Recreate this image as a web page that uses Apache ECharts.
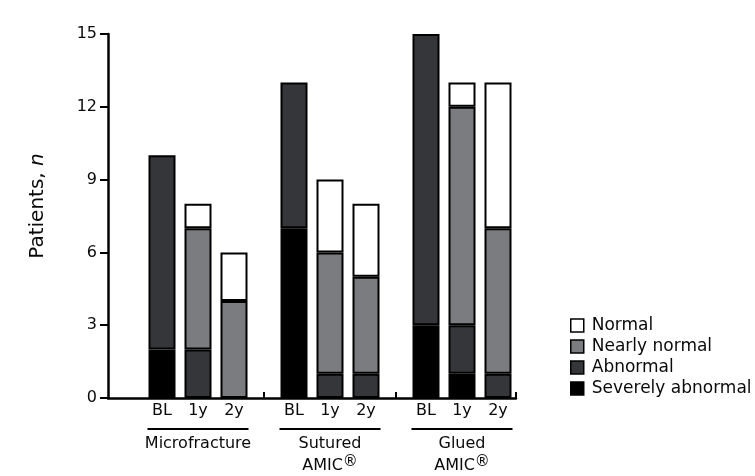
<!DOCTYPE html>
<html><head><meta charset="utf-8">
<script src="https://cdn.jsdelivr.net/npm/echarts@6/dist/echarts.min.js"></script>
<style>html,body{margin:0;padding:0;background:#fff}#c{width:755px;height:476px}</style>
</head><body><div id="c"></div>
<script>
const groups = ['Microfracture', 'Sutured', 'Glued'];
const groupSub = ['', 'AMIC®', 'AMIC®'];
const timepoints = ['BL', '1y', '2y'];
const severelyAbnormal = [2, 0, 0, 7, 0, 0, 3, 1, 0];
const abnormal =         [8, 2, 0, 6, 1, 1, 12, 2, 1];
const nearlyNormal =     [0, 5, 4, 0, 5, 4, 0, 9, 6];
const normal =           [0, 1, 2, 0, 3, 3, 0, 1, 6];
const yTicks = [0, 3, 6, 9, 12, 15];

// layout of the fine category grid (slots): lead-in, bar step, group step, total
const LEAD = 4, BAR_STEP = 3, GROUP_STEP = 11, N_SLOTS = 34;
const FONT = 'DejaVu Sans';
const TXT = '#0a0a0a';
const slotLabel = new Array(N_SLOTS).fill('');
const barSlot = [];
groups.forEach((g, gi) => timepoints.forEach((t, ti) => {
  const k = LEAD + gi * GROUP_STEP + ti * BAR_STEP;
  barSlot.push(k); slotLabel[k] = t;
}));
const gapSlot = [];
for (let gi = 0; gi < groups.length - 1; gi++) {
  gapSlot.push(Math.round((LEAD + gi * GROUP_STEP + 2 * BAR_STEP + LEAD + (gi + 1) * GROUP_STEP + 1) / 2));
}
const categories = slotLabel.map((s, i) => 's' + i);

function mk(name, vals, color) {
  const data = new Array(N_SLOTS).fill('-');
  vals.forEach((v, i) => { data[barSlot[i]] = v === 0 ? '-' : v; });
  return {
    name, type: 'bar', stack: 'all', barWidth: 27,
    itemStyle: { color, borderColor: '#000', borderWidth: 2 },
    data
  };
}

const chart = echarts.init(document.getElementById('c'));
chart.setOption({
  animation: false,
  textStyle: { fontFamily: FONT },
  grid: { left: 108, right: 239, top: 34, bottom: 78 },
  legend: {
    orient: 'vertical', left: 565, top: 312, icon: 'rect',
    itemWidth: 13, itemHeight: 13, itemGap: 4,
    data: ['Normal', 'Nearly normal', 'Abnormal', 'Severely abnormal'],
    textStyle: { fontFamily: FONT, fontSize: 17, lineHeight: 17, color: TXT, padding: [0, 0, 0, 3] },
    itemStyle: { borderColor: '#000', borderWidth: 1.5 }
  },
  xAxis: {
    type: 'category', data: categories, boundaryGap: true,
    axisLine: { show: true, lineStyle: { color: '#000', width: 2.5 } },
    axisTick: { show: true, inside: true, length: 6, interval: (i) => gapSlot.includes(i), lineStyle: { color: '#000', width: 2 } },
    axisLabel: {
      show: true, interval: 0, margin: 5,
      fontFamily: FONT, fontSize: 16, color: TXT,
      formatter: (v, i) => slotLabel[i]
    }
  },
  yAxis: {
    type: 'value', min: 0, max: 15, interval: 3,
    splitLine: { show: false },
    name: 'Patients, {i|n}', nameLocation: 'middle', nameGap: 60, nameRotate: 90,
    nameTextStyle: { fontFamily: FONT, fontSize: 20, color: TXT, padding: [0, 0, 0, 20], rich: { i: { fontFamily: FONT, fontSize: 20, fontStyle: 'italic', color: TXT } } },
    axisLine: { show: true, onZero: false, lineStyle: { color: '#000', width: 2.5 } },
    axisTick: { show: true, length: 8, lineStyle: { color: '#000', width: 2 } },
    axisLabel: { fontFamily: FONT, fontSize: 16, color: TXT, margin: 11 }
  },
  series: [
    mk('Severely abnormal', severelyAbnormal, '#000000'),
    mk('Abnormal', abnormal, '#353639'),
    mk('Nearly normal', nearlyNormal, '#7b7c7f'),
    mk('Normal', normal, '#ffffff')
  ]
});

// group underlines and names, positioned from the axis scale
const half = 27 / 2 + 1;
const gfx = [];
groups.forEach((g, gi) => {
  const x0 = chart.convertToPixel({ xAxisIndex: 0 }, barSlot[gi * 3]) - half;
  const x1 = chart.convertToPixel({ xAxisIndex: 0 }, barSlot[gi * 3 + 2]) + half;
  const yLine = 429;
  gfx.push({ type: 'line', shape: { x1: x0, y1: yLine, x2: x1, y2: yLine }, style: { stroke: '#000', lineWidth: 2 } });
  const cx = (x0 + x1) / 2;
  gfx.push({ type: 'text', x: cx, y: 444, style: { text: g, fontFamily: FONT, fontSize: 16, fill: TXT, align: 'center', verticalAlign: 'middle' } });
  if (groupSub[gi]) {
    gfx.push({ type: 'text', x: cx, y: 466, style: {
      text: 'AMIC{s|®}', fontFamily: FONT, fontSize: 16, fill: TXT, align: 'center', verticalAlign: 'middle',
      rich: { s: { fontSize: 15, verticalAlign: 'top', padding: [0, 0, 7, 0], fontFamily: FONT, fill: TXT } }
    } });
  }
});
chart.setOption({ graphic: gfx });
</script>
</body></html>
